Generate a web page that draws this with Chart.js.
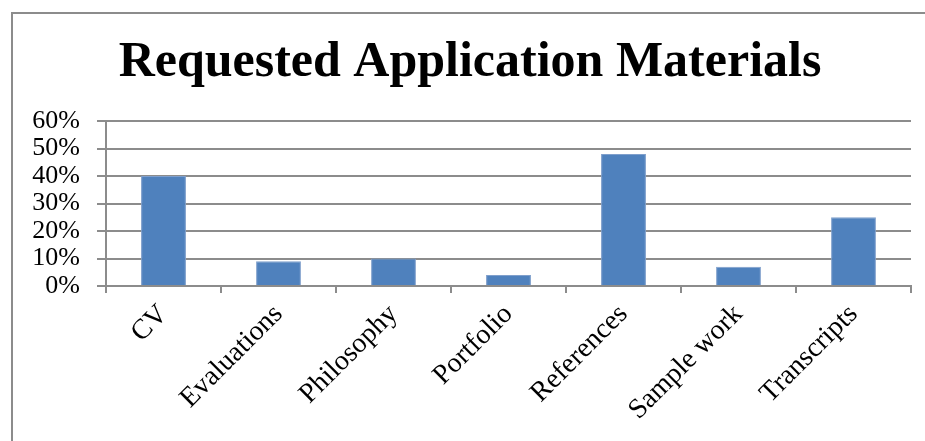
<!DOCTYPE html>
<html>
<head>
<meta charset="utf-8">
<script src="https://cdn.jsdelivr.net/npm/chart.js@4"></script>
<style>
  html, body { margin: 0; padding: 0; background: #fff; overflow: hidden; }
  #frame { position: absolute; left: 11px; top: 12px; width: 1000px; height: 600px; border: 2px solid #8c8c8c; }
  #wrap { position: absolute; left: 0; top: 0; width: 925px; height: 441px; }
</style>
</head>
<body>
<div id="frame"></div>
<div id="wrap"><canvas id="chart"></canvas></div>
<script>
// Datos del gráfico
const categorias = ['CV', 'Evaluations', 'Philosophy', 'Portfolio', 'References', 'Sample work', 'Transcripts'];
const porcentajes = [40, 9, 10, 4, 48, 7, 25];
const ticksY = [0, 10, 20, 30, 40, 50, 60];

const gris = '#8c8c8c';
const serif = "'Liberation Serif', 'DejaVu Serif', serif";

new Chart(document.getElementById('chart'), {
  type: 'bar',
  data: {
    labels: categorias,
    datasets: [{
      data: porcentajes,
      backgroundColor: '#4f81bd',
      borderColor: '#7f9fcc',
      borderWidth: 1,
      barPercentage: 0.39,
      categoryPercentage: 1
    }]
  },
  options: {
    responsive: true,
    maintainAspectRatio: false,
    animation: false,
    layout: { padding: { left: 29, right: 14, top: 0, bottom: 0 } },
    plugins: {
      legend: { display: false },
      tooltip: { enabled: false },
      title: {
        display: true,
        text: 'Requested Application Materials',
        color: '#000',
        font: { family: serif, size: 50, weight: 'bold' },
        padding: { top: 33, bottom: 28 }
      }
    },
    scales: {
      x: {
        offset: true,
        grid: { display: true, drawOnChartArea: false, offset: true, color: gris, lineWidth: 2, tickLength: 7 },
        border: { display: true, color: gris, width: 2 },
        ticks: {
          color: '#000',
          font: { family: serif, size: 28 },
          minRotation: 45,
          maxRotation: 45,
          padding: 5,
          autoSkip: false
        },
        afterFit: (scale) => { scale.height = 155; }
      },
      y: {
        min: 0,
        max: 60,
        afterBuildTicks: (scale) => { scale.ticks = ticksY.map(v => ({ value: v })); },
        grid: { color: gris, lineWidth: 2, tickLength: 9 },
        border: { display: true, color: gris, width: 2 },
        ticks: {
          color: '#000',
          font: { family: serif, size: 26 },
          padding: 17,
          autoSkip: false,
          callback: (v) => v + '%'
        },
        afterFit: (scale) => { scale.width = 77; }
      }
    }
  }
});
</script>
</body>
</html>
